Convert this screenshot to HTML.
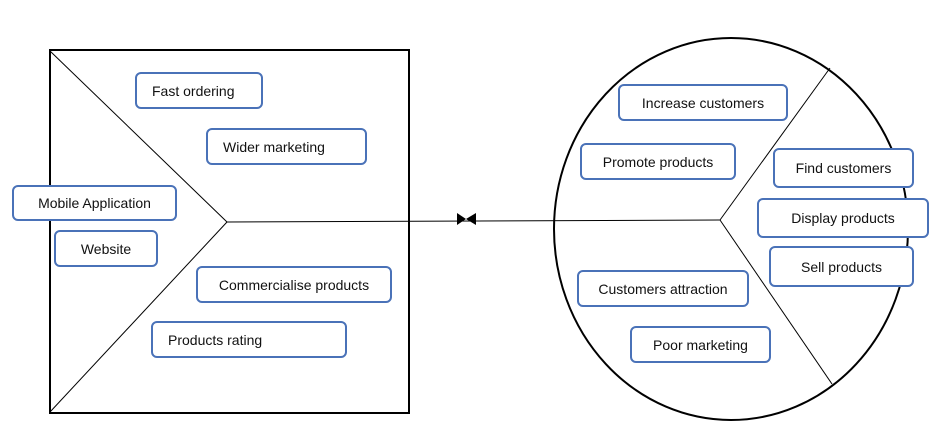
<!DOCTYPE html>
<html><head><style>
body{margin:0;width:952px;height:435px;background:#fff;position:relative;overflow:hidden;font-family:"Liberation Sans",sans-serif}
.b{position:absolute;box-sizing:border-box;border:2px solid #4a72b8;border-radius:6px;background:#fff;font-size:14px;color:#111;display:flex;align-items:center;justify-content:center;white-space:nowrap}
svg{position:absolute;left:0;top:0}
</style></head><body>
<svg width="952" height="435">
<rect x="50" y="50" width="359" height="363" fill="none" stroke="#000" stroke-width="2"/>
<line x1="50" y1="51" x2="227" y2="222" stroke="#000" stroke-width="1"/>
<line x1="50" y1="412" x2="227" y2="222" stroke="#000" stroke-width="1"/>
<line x1="227" y1="222" x2="720" y2="220" stroke="#000" stroke-width="1"/>
<polygon points="457,213 466,219 457,225" fill="#000"/>
<polygon points="476,213 466,219 476,225" fill="#000"/>
<ellipse cx="731" cy="229" rx="177" ry="191" fill="none" stroke="#000" stroke-width="2"/>
<line x1="720" y1="220" x2="830" y2="68" stroke="#000" stroke-width="1"/>
<line x1="720" y1="220" x2="832" y2="384" stroke="#000" stroke-width="1"/>
</svg>
<div class="b" style="left:135px;top:72px;width:128px;height:37px;justify-content:flex-start;padding-left:15px">Fast ordering</div>
<div class="b" style="left:206px;top:128px;width:161px;height:37px;justify-content:flex-start;padding-left:15px">Wider marketing</div>
<div class="b" style="left:12px;top:185px;width:165px;height:36px">Mobile Application</div>
<div class="b" style="left:54px;top:230px;width:104px;height:37px">Website</div>
<div class="b" style="left:196px;top:266px;width:196px;height:37px">Commercialise products</div>
<div class="b" style="left:151px;top:321px;width:196px;height:37px;justify-content:flex-start;padding-left:15px">Products rating</div>
<div class="b" style="left:618px;top:84px;width:170px;height:37px">Increase customers</div>
<div class="b" style="left:580px;top:143px;width:156px;height:37px">Promote products</div>
<div class="b" style="left:773px;top:148px;width:141px;height:40px">Find customers</div>
<div class="b" style="left:757px;top:198px;width:172px;height:40px">Display products</div>
<div class="b" style="left:769px;top:246px;width:145px;height:41px">Sell products</div>
<div class="b" style="left:577px;top:270px;width:172px;height:37px">Customers attraction</div>
<div class="b" style="left:630px;top:326px;width:141px;height:37px">Poor marketing</div>
</body></html>
